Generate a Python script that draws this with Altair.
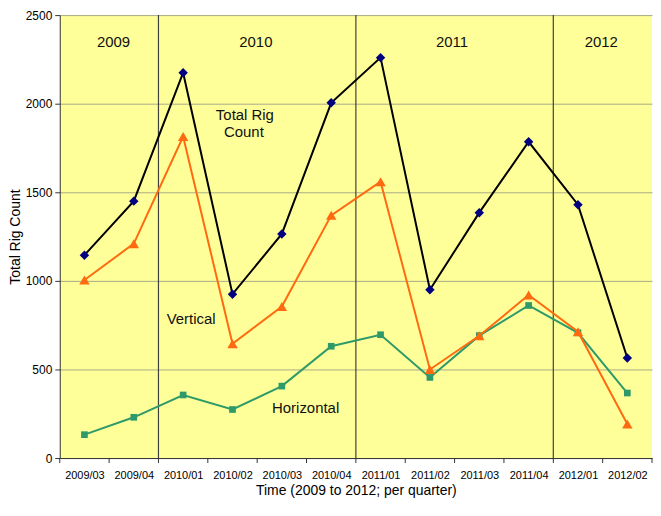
import altair as alt
import pandas as pd

quarters = ["2009/03", "2009/04", "2010/01", "2010/02", "2010/03", "2010/04",
            "2011/01", "2011/02", "2011/03", "2011/04", "2012/01", "2012/02"]
total = [1145, 1450, 2175, 925, 1265, 2005, 2260, 950, 1385, 1785, 1430, 565]
vertical = [1005, 1210, 1815, 645, 855, 1370, 1560, 500, 690, 920, 713, 192]
horizontal = [132, 230, 356, 274, 406, 631, 696, 455, 691, 861, 707, 367]
year_breaks = [2, 6, 10]
tick_bounds = list(range(13))

W, H = 595, 445
FONT = "Liberation Sans"

df = pd.DataFrame({
    "quarter": quarters,
    "pos": [i + 0.5 for i in range(len(quarters))],
    "total": total,
    "vertical": vertical,
    "horizontal": horizontal,
})

label_arr = "[" + ",".join("'%s'" % q for q in quarters) + "]"
xscale = alt.Scale(domain=[0, 12], nice=False, zero=False)
yscale = alt.Scale(domain=[0, 2500], nice=False)

xaxis = alt.Axis(values=[i + 0.5 for i in range(12)], labelExpr=label_arr + "[round(datum.value - 0.5)]",
                 ticks=False, grid=False, domain=True, domainColor="#333333",
                 labelFont=FONT, labelFontSize=11, labelColor="#000000", labelPadding=12,
                 title="Time (2009 to 2012; per quarter)", titleFont=FONT, titleFontSize=14,
                 titleFontWeight="normal", titleColor="#000000", titlePadding=3)
yaxis = alt.Axis(values=[0, 500, 1000, 1500, 2000, 2500], format="d", grid=True, gridColor="#A8A888",
                 tickColor="#333333", tickSize=5, domainColor="#333333",
                 labelFont=FONT, labelFontSize=12, labelColor="#000000", labelPadding=3,
                 title="Total Rig Count", titleFont=FONT, titleFontSize=14,
                 titleFontWeight="normal", titleColor="#000000", titlePadding=3)

def X(field):
    return alt.X(field + ":Q", scale=xscale, axis=xaxis)

def Y(field):
    return alt.Y(field + ":Q", scale=yscale, axis=yaxis)

base = alt.Chart(df)

def series(col, line_color, pt_color, shape, size):
    line = base.mark_line(color=line_color, strokeWidth=2).encode(x=X("pos"), y=Y(col))
    pts = base.mark_point(filled=True, opacity=1, color=pt_color, shape=shape, size=size).encode(x=X("pos"), y=Y(col))
    return line + pts

seps = alt.Chart(pd.DataFrame({"b": year_breaks})).mark_rule(color="#404040", strokeWidth=1.2).encode(
    x=X("b")
)

ticks = alt.Chart(pd.DataFrame({"b": tick_bounds})).mark_rule(color="#333333", strokeWidth=1).encode(
    x=X("b"),
    y=alt.value(H), y2=alt.value(H + 5),
)

note_text = ["2009", "2010", "2011", "2012", "Total Rig", "Count", "Vertical", "Horizontal"]
note_px = [54, 197, 394, 544, 186, 185, 132, 247]
note_py = [27, 27, 27, 27, 100, 117, 305, 395]

one = pd.DataFrame({"k": [0]})
notes = [
    alt.Chart(one).mark_text(text=t, font=FONT, fontSize=15, color="#111111",
                             align="center", baseline="middle").encode(x=alt.value(px), y=alt.value(py))
    for t, px, py in zip(note_text, note_px, note_py)
]

chart = alt.layer(
    seps,
    ticks,
    series("horizontal", "#2E9A6A", "#2E9A6A", "square", 45),
    series("vertical", "#FF6A10", "#FF6A10", "triangle-up", 110),
    series("total", "#000000", "#000080", "diamond", 90),
    *notes,
).properties(
    width=W, height=H,
    padding={"left": 0, "top": 0, "right": 0, "bottom": 0},
    background="#FFFFFF",
).configure_view(fill="#FFFF99", stroke=None)

chart.save("out.html", embed_options={"renderer": "svg", "actions": False})
